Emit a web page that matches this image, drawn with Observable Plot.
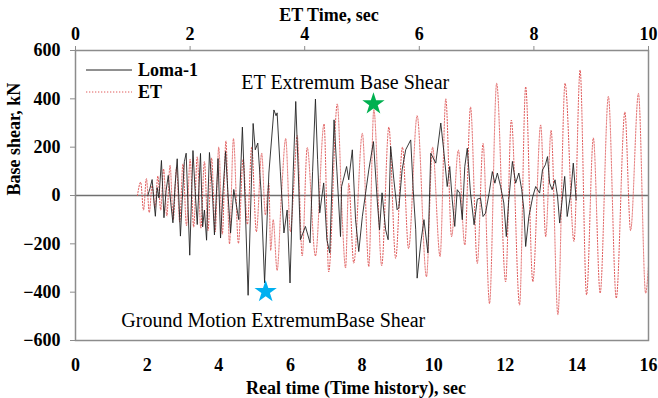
<!DOCTYPE html>
<html><head><meta charset="utf-8">
<script src="https://cdn.jsdelivr.net/npm/d3@7"></script>
<script src="https://cdn.jsdelivr.net/npm/@observablehq/plot@0.6"></script>
<style>
html,body{margin:0;padding:0;background:#fff;}
#wrap{position:relative;width:658px;height:398px;font-family:"Liberation Serif","Times New Roman",serif;}
#legend{position:absolute;left:86px;top:59px;font-weight:bold;font-size:18px;color:#000;}
#legend .row{display:flex;align-items:center;height:22px;}
#legend svg{display:block;margin-right:6px;}
</style></head><body><div id="wrap"><div id="chart"></div><div id="legend"></div></div>
<script>
// ---- data ----
const lomaTime = [2.02,2.08,2.14,2.2,2.23,2.28,2.33,2.40,2.47,2.53,2.59,2.66,2.72,2.78,2.84,2.93,2.98,3.04,3.09,3.19,3.28,3.34,3.40,3.49,3.55,3.6,3.66,3.74,3.81,3.88,3.98,4.05,4.12,4.19,4.26,4.33,4.42,4.47,4.56,4.66,4.73,4.82,4.96,5.02,5.09,5.18,5.28,5.4,5.54,5.6,5.63,5.72,5.82,5.91,5.99,6.08,6.15,6.22,6.28,6.42,6.55,6.62,6.7,6.76,6.82,6.93,7.02,7.1,7.22,7.3,7.4,7.43,7.57,7.63,7.73,7.82,7.91,8.01,8.1,8.19,8.32,8.43,8.49,8.56,8.66,8.73,8.8,8.89,8.98,9.03,9.12,9.22,9.36,9.43,9.5,9.54,9.64,9.73,9.84,9.92,10.06,10.2,10.29,10.38,10.45,10.52,10.59,10.66,10.73,10.8,10.87,10.94,11.03,11.13,11.22,11.31,11.38,11.45,11.55,11.64,11.71,11.78,11.87,11.96,12.03,12.1,12.2,12.29,12.38,12.46,12.52,12.57,12.66,12.77,12.85,12.96,13.04,13.12,13.18,13.24,13.31,13.39,13.46,13.52,13.6,13.66,13.73,13.83,13.9,13.98];
const lomaShear = [0,30,66,-40,-86,33,-10,145,-92,20,83,-30,-113,40,152,-168,-20,140,175,-247,186,20,-120,174,-130,-60,-185,178,50,-163,153,-176,20,182,0,-155,25,-20,-100,283,0,-413,298,189,217,20,-362,93,354,330,342,100,-155,-60,-362,100,389,100,-183,-128,-196,100,399,150,-72,52,-183,-238,313,100,-170,37,120,65,189,-100,-232,-87,10,106,223,-30,-142,11,-142,-183,203,65,-59,-50,106,189,230,24,-142,-342,-197,-100,-238,175,134,300,175,37,120,-18,-128,24,10,-100,120,196,10,-121,-15,-11,-87,-73,10,99,51,93,37,-31,-170,-15,141,51,93,24,-59,-211,-87,-4,37,10,106,127,161,51,24,65,-4,-114,-4,79,-87,10,134,-18];

const etTime = [1.73,1.82,1.9,1.98,2.06,2.14,2.22,2.3,2.38,2.46,2.55,2.64,2.73,2.82,2.91,3.0,3.1,3.2,3.3,3.4,3.5,3.6,3.7,3.8,3.9,4.0,4.1,4.2,4.3,4.41,4.55,4.68,4.8,4.92,5.05,5.2,5.3,5.4,5.45,5.52,5.63,5.75,5.87,6.0,6.1,6.19,6.33,6.47,6.7,6.94,7.07,7.31,7.45,7.54,7.63,7.77,8.01,8.19,8.33,8.55,8.75,8.94,9.13,9.3,9.54,9.8,9.97,10.18,10.34,10.5,10.69,10.87,11.03,11.22,11.38,11.56,11.76,12.01,12.17,12.4,12.57,12.77,12.99,13.13,13.28,13.47,13.67,13.92,14.09,14.27,14.46,14.65,14.88,15.1,15.34,15.5,15.72,15.92,16.0];
const etShear = [0,55,-60,70,-70,40,-50,80,-60,110,-85,125,-100,115,-110,130,-125,150,-130,160,-135,140,-145,155,-150,200,-160,225,-200,235,-198,150,-120,200,-150,175,-80,50,-227,-100,-310,0,235,-150,50,248,-250,198,-250,296,-316,379,-100,-300,50,-280,257,-294,355,-290,283,-260,200,-220,330,-336,200,-252,400,-170,188,-205,366,-281,215,-447,464,-357,312,-453,450,-357,292,-170,269,-493,464,-190,519,-411,238,-404,410,-425,345,-145,422,-404,-290];

const xTicks = [0,2,4,6,8,10,12,14,16];
const etTicks = [0,2,4,6,8,10];
const etToReal = 1.6; // ET time 10 s spans real time 16 s
const yTicks = [-600,-400,-200,0,200,400,600];

const seriesNames = ["Loma-1","ET"];
const seriesColors = ["#222222","#e05a5a"];

const starTime = [8.32, 5.31];
const starShear = [379, -398];
const starColor = ["#00b050","#00b0f0"];

const noteText = ["ET Extremum Base Shear","Ground Motion ExtremumBase Shear"];
const noteTime = [4.63, 1.28];
const noteShear = [442, -546];

const xTitle = "Real time (Time history), sec";
const topTitle = "ET Time, sec";
const yTitle = "Base shear, kN";

// ---- build tables ----
const loma = lomaTime.map((t,i)=>({t, v: lomaShear[i]}));
const et = etTime.map((t,i)=>({t, v: etShear[i]}));
const stars = starTime.map((t,i)=>({t, v: starShear[i], c: starColor[i]}));
const notes = noteTime.map((t,i)=>({t, v: noteShear[i], label: noteText[i]}));

const F = "Liberation Serif, Times New Roman, serif";
const axisGray = "#8c8c8c";

const chart = Plot.plot({
  width: 658, height: 398,
  marginLeft: 75, marginRight: 10, marginTop: 50, marginBottom: 58,
  x: {domain: [0,16]},
  y: {domain: [-600,600]},
  style: {fontFamily: F, background: "#fff", color: "#000", overflow: "visible"},
  marks: [
    Plot.ruleY([0], {stroke: "#707070", strokeWidth: 1.6}),
    Plot.line(et, {x: "t", y: "v", stroke: seriesColors[1], strokeWidth: 1, strokeDasharray: "1.3,1.7", curve: "monotone-x"}),
    Plot.line(loma, {x: "t", y: "v", stroke: seriesColors[0], strokeWidth: 0.9, curve: "linear"}),
    Plot.frame({stroke: axisGray, strokeWidth: 1.5}),
    Plot.axisY(yTicks, {tickSize: 5, tickPadding: 10, stroke: axisGray, fontSize: 18, fontWeight: "bold", label: null}),
    Plot.axisX(xTicks, {anchor: "bottom", tickSize: 0, tickPadding: 18, fontSize: 18, fontWeight: "bold", label: null}),
    Plot.axisX(etTicks.map(d => d * etToReal), {anchor: "top", tickSize: 5, tickPadding: 6, stroke: axisGray, fontSize: 18, fontWeight: "bold", label: null, tickFormat: d => String(Math.round(d / etToReal))}),
    Plot.dot(stars, {x: "t", y: "v", symbol: "star", r: 7, fill: "c", stroke: null}),
    Plot.text(notes, {x: "t", y: "v", text: "label", textAnchor: "start", lineAnchor: "bottom", fontSize: 20, fill: "#000"}),
    Plot.text([topTitle], {frameAnchor: "top", dx: -33, dy: -30, lineAnchor: "bottom", fontSize: 18, fontWeight: "bold"}),
    Plot.text([xTitle], {frameAnchor: "bottom", dx: -6, dy: 53, lineAnchor: "bottom", fontSize: 18, fontWeight: "bold"}),
    Plot.text([yTitle], {frameAnchor: "left", dx: -61, rotate: -90, lineAnchor: "middle", fontSize: 18, fontWeight: "bold"})
  ]
});
document.getElementById("chart").appendChild(chart);

// legend (series names and styles from the arrays above)
const leg = document.getElementById("legend");
seriesNames.forEach((name, i) => {
  const row = document.createElement("div");
  row.className = "row";
  const dash = i === 1 ? ' stroke-dasharray="1.3,1.7"' : '';
  row.innerHTML = `<svg width="46" height="4"><line x1="0" x2="46" y1="2" y2="2" stroke="${seriesColors[i]}" stroke-width="1"${dash}/></svg><span>${name}</span>`;
  leg.appendChild(row);
});
</script>
</body></html>
